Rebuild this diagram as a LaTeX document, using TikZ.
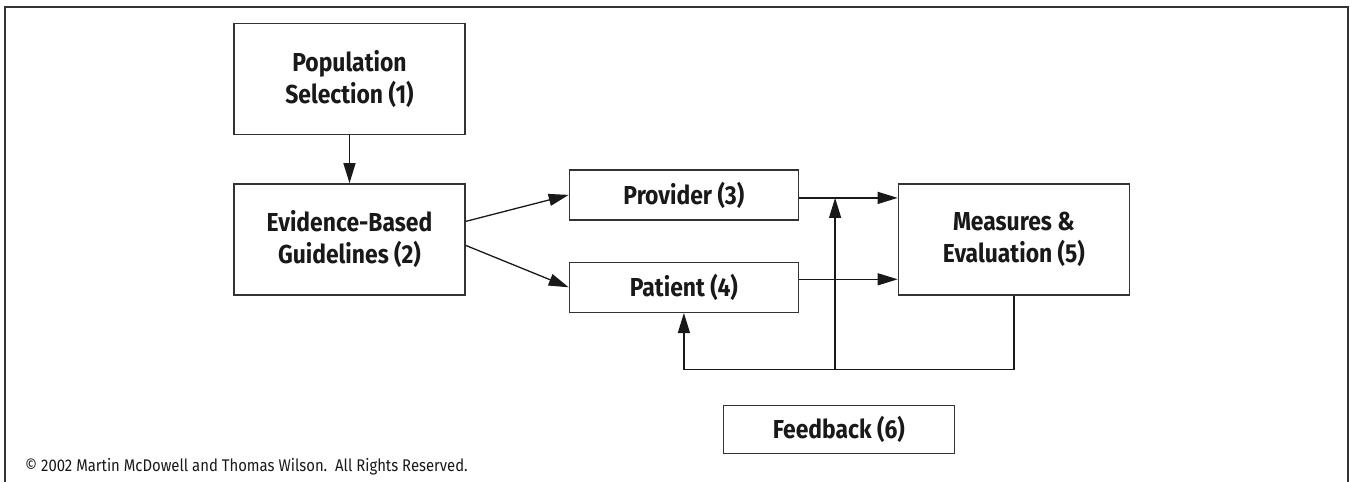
\documentclass[tikz,border=0pt]{standalone}
\usepackage{fontspec}
\setmainfont{Fira Sans}[FakeStretch=0.88]
\usetikzlibrary{arrows.meta, positioning, calc}

\begin{document}
\begin{tikzpicture}[x=1pt, y=1pt, node distance=48pt]
        \tikzstyle{block} = [rectangle, minimum width=231pt, minimum height=111pt, text centered, align=center, draw=black!80, line width=1.4pt, inner sep=0pt, text=black!90, font=\fontsize{26}{32}\selectfont\bfseries]
        \tikzstyle{slim} = [block, minimum width=229pt, minimum height=50pt]
        \tikzstyle{arrow} = [line width=1.3pt, draw=black!90, -{Triangle[length=20pt, width=12pt]}]

        % frame and page size
        \useasboundingbox (0,0) rectangle (1350,-482);
        \draw [line width=1.2pt, black!80] (5,-482) -- (5,-7) -- (1348,-7) -- (1348,-482);

        \node (popsel) [block] at (349.5,-79) {Population\\Selection (1)};
        \node (guide) [block, below=of popsel] {Evidence-Based\\Guidelines (2)};
        \node (prov) [slim, right=103pt of guide, yshift=44.5pt] {Provider (3)};
        \node (pat) [slim, below=41pt of prov] {Patient (4)};
        \node (meas) [block, right=432pt of guide] {Measures \&\\Evaluation (5)};
        \node (feed) [slim, minimum width=231pt, minimum height=48pt, below=109pt of meas, xshift=-175pt] {Feedback (6)};
        \node (copy) [anchor=base west, inner sep=0pt, text=black!90, font=\fontsize{16.9}{19}\selectfont] at (25,-471) {\textcopyright{} 2002 Martin McDowell and Thomas Wilson.\ \ All Rights Reserved.};

        \coordinate [below=74pt of meas.south] (loop);
        \coordinate (join) at ($(prov.east)+(36pt,-3pt)$);

        \draw [arrow] (popsel) -- (guide);
        \draw [arrow] ([yshift=18pt]guide.east) -- (prov.west);
        \draw [arrow] ([yshift=-6pt]guide.east) -- (pat.west);
        \draw [arrow] ([yshift=-3pt]prov.east) -- ([yshift=-3pt]prov.east -| meas.west);
        \draw [arrow] ([yshift=8pt]pat.east) -- ([yshift=8pt]pat.east -| meas.west);
        \draw [arrow] (meas.south) -- (loop) -| (pat.south);
        \draw [arrow] (join |- loop) -- (join);
    \end{tikzpicture}
\end{document}
